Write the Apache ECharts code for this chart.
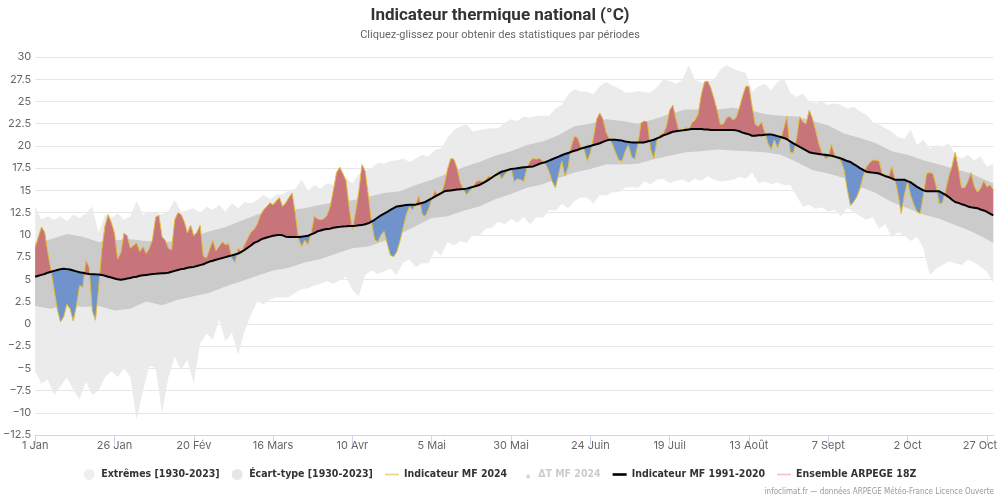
<!DOCTYPE html>
<html><head><meta charset="utf-8">
<script src="https://cdn.jsdelivr.net/npm/echarts@6/dist/echarts.min.js"></script>
<style>html,body{margin:0;padding:0;background:#fff}#c{width:1000px;height:500px}</style>
</head><body><div id="c"></div>
<script>
// x tick labels (every 25 days from 1 Jan 2024)
const tickLabels = ['1 Jan','26 Jan','20 Fév','16 Mars','10 Avr','5 Mai','30 Mai','24 Juin','19 Juil','13 Août','7 Sept','2 Oct','27 Oct'];

// Indicateur MF 2024, daily from 1 Jan
const mf2024 = [
8.6,9.8,10.9,10.3,8.0,6.0,3.8,1.6,0.2,0.8,
2.2,1.7,0.3,2.0,4.3,4.1,7.1,6.4,1.5,0.4,
4.0,8.3,11.0,12.3,11.4,10.2,7.3,8.0,10.2,9.9,
8.5,8.8,9.1,8.1,8.7,7.9,8.5,9.5,12.0,12.2,
9.8,9.4,8.5,8.3,11.7,12.5,12.3,11.5,10.2,11.1,
9.9,10.3,11.1,7.6,7.4,8.4,9.4,8.2,8.7,9.2,
8.9,9.0,7.4,6.9,8.5,8.1,8.9,9.6,10.3,10.6,
11.2,12.2,12.8,13.2,13.6,13.4,13.8,14.2,13.2,13.6,
14.2,14.7,12.4,9.6,8.7,9.4,8.9,10.2,12.1,11.8,
11.7,11.8,12.2,13.2,15.0,17.0,17.6,16.9,16.1,13.0,
10.6,12.6,14.8,17.9,17.2,14.5,11.5,9.5,9.2,10.0,
10.4,9.0,7.7,7.55,8.1,9.3,10.8,12.3,13.2,12.8,
13.5,14.4,12.3,12.1,12.9,14.0,15.0,14.4,14.6,15.7,
17.4,18.6,18.5,17.5,15.9,15.1,14.5,15.0,15.3,16.0,
16.1,16.0,16.2,16.6,16.4,16.6,17.2,16.3,16.8,17.2,
17.5,16.0,16.3,16.2,16.0,17.5,18.3,18.6,18.5,18.6,
18.3,17.9,17.1,16.0,15.3,16.8,18.3,16.6,17.6,20.0,
21.1,20.9,19.9,19.7,18.3,19.2,21.0,23.0,23.7,23.0,
21.5,20.8,20.2,19.2,18.4,18.3,19.4,20.1,18.8,18.5,
20.2,22.6,22.8,22.7,19.6,18.6,20.6,21.3,21.4,22.2,
24.0,24.6,23.0,21.6,21.6,22.1,21.8,22.6,22.9,23.6,
25.8,27.2,27.3,26.5,25.3,24.0,22.4,22.5,23.2,23.3,
22.9,23.2,24.3,25.6,26.7,26.7,24.4,22.4,22.2,22.7,
21.5,20.3,19.6,20.7,19.8,20.7,22.0,23.3,19.3,19.2,
20.8,23.3,22.7,22.5,24.0,23.1,21.8,20.3,19.2,18.6,
18.7,20.2,19.0,18.6,18.3,17.3,15.1,13.3,13.7,14.3,
15.2,16.6,17.6,18.1,18.4,18.4,18.3,16.9,16.7,16.4,
17.7,16.3,14.6,12.4,14.5,16.0,14.4,13.4,12.6,12.4,
14.5,16.9,17.0,16.9,15.5,13.5,13.6,15.0,16.6,17.7,
19.3,17.5,15.3,15.3,16.0,17.0,15.5,14.8,15.2,16.1,
15.4,15.6,15.1
];

// Indicateur MF 1991-2020 (normale), daily
const mfNormal = [
5.3,5.4,5.5,5.6,5.75,5.85,5.95,6.05,6.15,6.2,
6.15,6.1,6.0,5.9,5.8,5.75,5.65,5.6,5.58,5.56,
5.55,5.5,5.4,5.3,5.2,5.1,5.0,4.95,5.0,5.1,
5.15,5.25,5.3,5.4,5.45,5.5,5.55,5.6,5.62,5.65,
5.68,5.7,5.75,5.85,5.95,6.05,6.15,6.2,6.3,6.35,
6.4,6.5,6.6,6.7,6.85,7.0,7.1,7.2,7.3,7.4,
7.5,7.6,7.7,7.8,7.9,8.1,8.3,8.55,8.8,9.1,
9.25,9.45,9.6,9.7,9.8,9.9,9.95,10.0,9.95,9.8,
9.75,9.75,9.75,9.75,9.8,9.85,9.9,10.05,10.2,10.4,
10.5,10.6,10.65,10.7,10.8,10.85,10.9,10.95,10.97,11.0,
11.0,11.03,11.07,11.1,11.2,11.3,11.5,11.7,11.95,12.2,
12.4,12.6,12.8,13.0,13.2,13.25,13.3,13.35,13.38,13.4,
13.4,13.5,13.6,13.7,13.9,14.1,14.3,14.5,14.7,14.9,
14.95,15.0,15.05,15.1,15.12,15.15,15.2,15.3,15.4,15.5,
15.6,15.8,16.0,16.2,16.45,16.7,16.9,17.1,17.2,17.3,
17.4,17.45,17.5,17.55,17.6,17.63,17.67,17.7,17.85,18.0,
18.1,18.2,18.35,18.5,18.65,18.8,18.95,19.1,19.2,19.35,
19.45,19.55,19.7,19.8,19.9,20.0,20.1,20.2,20.3,20.45,
20.6,20.7,20.7,20.7,20.65,20.6,20.5,20.45,20.4,20.4,
20.4,20.4,20.4,20.5,20.6,20.7,20.85,21.0,21.2,21.3,
21.45,21.6,21.65,21.7,21.75,21.8,21.85,21.9,21.9,21.9,
21.9,21.85,21.85,21.8,21.8,21.8,21.8,21.8,21.8,21.8,
21.8,21.75,21.65,21.5,21.4,21.3,21.15,21.15,21.2,21.2,
21.25,21.3,21.3,21.2,21.1,21.0,20.9,20.75,20.5,20.3,
20.1,19.9,19.7,19.5,19.3,19.2,19.15,19.1,19.05,19.0,
18.95,18.9,18.8,18.7,18.6,18.45,18.3,18.2,17.95,17.75,
17.5,17.3,17.1,17.05,17.0,16.95,16.9,16.75,16.6,16.5,
16.35,16.2,16.2,16.2,16.2,16.05,15.9,15.65,15.4,15.2,
15.0,14.9,14.9,14.9,14.9,14.9,14.7,14.5,14.25,13.95,
13.7,13.6,13.45,13.35,13.2,13.1,13.05,13.0,12.85,12.75,
12.6,12.4,12.2
];

// Extrêmes [1930-2023], every 2 days
const extMax = [
13.2,11.7,12.1,11.7,12.1,11.5,12.25,11.9,12.4,13.2,
10.2,12.25,11.9,12.4,11.7,12.1,13.8,12.25,12.6,12.5,
12.3,12.7,13.9,12.6,12.8,13.0,12.4,13.2,12.8,13.4,
12.6,13.55,13.0,13.7,13.55,13.9,14.5,14.0,14.5,14.6,
15.0,15.2,16.2,14.9,15.6,15.2,15.8,15.6,16.2,16.4,
15.8,16.8,17.2,17.5,18.1,18.0,18.3,18.4,18.6,18.2,
18.6,19.0,18.8,19.55,19.7,20.9,21.8,22.2,22.4,21.6,
21.8,21.9,22.0,22.0,22.6,23.0,22.8,23.3,23.2,23.4,
23.4,23.4,24.2,24.6,25.8,26.4,26.1,26.1,25.8,26.7,
27.2,26.8,26.5,26.0,26.0,26.2,26.0,26.0,26.6,27.5,
27.3,27.0,27.4,29.1,27.4,27.1,27.2,27.5,28.6,29.1,
28.7,28.4,28.2,26.1,26.7,27.0,26.3,27.2,27.6,26.0,
25.5,25.9,25.0,24.8,25.0,24.6,24.8,24.6,24.2,24.4,
23.9,23.5,22.7,22.4,22.0,21.6,21.0,20.8,21.8,20.1,
20.7,19.7,20.1,19.9,20.3,19.0,18.6,19.0,18.4,18.8,
17.7,18.0
];
const extMin = [
-5.4,-6.7,-6.3,-8.0,-7.0,-6.0,-7.4,-8.5,-6.5,-8.0,
-7.5,-6.0,-5.3,-6.0,-5.0,-6.0,-10.8,-7.5,-4.7,-5.0,
-10.0,-6.0,-3.7,-5.2,-4.0,-6.7,-2.2,-1.05,-1.8,0.5,
-2.0,-1.0,-3.5,-0.8,1.0,2.5,2.2,2.7,3.0,3.0,
3.0,3.5,3.9,4.0,4.3,4.5,4.8,4.5,4.9,5.3,
3.8,3.1,5.5,6.0,5.6,5.9,6.2,5.5,6.9,7.2,
6.4,6.8,6.8,8.3,7.7,9.2,8.8,9.3,9.1,10.0,
9.9,10.7,10.8,11.5,11.2,11.8,11.4,12.0,11.2,12.0,
11.9,12.8,12.7,13.5,13.0,13.8,14.2,14.2,13.5,14.5,
14.4,14.8,14.8,15.3,15.4,15.3,16.0,15.7,16.2,16.3,
15.8,16.1,16.2,15.9,16.3,16.1,16.6,16.2,16.0,16.1,
16.2,16.5,16.3,17.0,15.8,16.0,15.7,15.9,15.6,15.6,
14.4,13.2,13.4,12.9,13.1,12.6,12.8,12.1,13.0,12.6,
12.1,11.7,12.0,10.7,11.2,9.7,10.3,9.9,9.3,9.8,
8.5,5.5,6.2,6.6,7.0,6.8,6.6,7.2,6.9,6.4,
5.9,4.6
];

// Écart-type [1930-2023]
const sdDays = [0,5,10,15,20,25,30,35,40,45,50,55,60,65,70,75,80,85,90,95,100,105,110,115,120,125,130,135,140,145,150,155,160,165,170,175,180,185,190,195,200,205,210,215,220,225,230,235,240,245,250,255,260,265,270,275,280,285,290,295,300,302];
const sdMax = [
9.1,9.5,10.1,9.8,9.2,9.4,9.5,9.3,9.2,9.3,
9.8,10.4,10.9,11.6,12.3,12.8,12.8,13.0,13.4,13.7,
13.9,14.3,14.7,14.9,15.6,16.2,16.9,17.6,18.2,18.9,
19.4,20.1,20.5,21.2,22.2,22.5,23.0,22.8,22.5,23.0,
23.6,24.1,24.1,24.1,24.3,24.0,23.6,23.4,23.3,22.8,
22.3,21.4,20.9,20.3,19.4,19.0,18.4,17.9,17.4,16.9,
16.1,15.8
];
const sdMin = [
2.0,1.7,2.2,1.9,2.0,1.5,1.7,2.5,2.1,2.7,
3.1,3.5,4.2,4.8,5.4,6.0,6.3,6.9,7.3,7.9,
8.5,8.7,9.3,10.1,11.0,11.9,12.1,12.7,13.2,14.0,
14.6,15.3,15.7,16.4,17.0,17.4,17.9,17.9,18.0,18.5,
18.9,19.3,19.4,19.6,19.5,19.4,19.3,19.0,18.2,17.3,
16.9,16.4,15.4,14.7,13.7,13.0,12.3,11.8,11.1,10.4,
9.5,9.1
];

const days = mf2024.map((_, i) => i);
const extDays = extMax.map((_, i) => i * 2);
const tickDays = tickLabels.map((_, i) => i * 25);
const pair = (xs, ys) => ys.map((y, i) => [xs[i], y]);

// Outline of the anomaly fill: the 2024 curve and the normal, with the exact
// points where the two drawn lines cross, so red/blue meet on the yellow line.
const anoX = [], anoInd = [], anoNorm = [];
for (let i = 0; i < mf2024.length; i++) {
  anoX.push(days[i]); anoInd.push(mf2024[i]); anoNorm.push(mfNormal[i]);
  if (i < mf2024.length - 1) {
    const d0 = mf2024[i] - mfNormal[i], d1 = mf2024[i + 1] - mfNormal[i + 1];
    if (d0 * d1 < 0) {
      const t = d0 / (d0 - d1);
      const v = mfNormal[i] + t * (mfNormal[i + 1] - mfNormal[i]);
      anoX.push(days[i] + t); anoInd.push(v); anoNorm.push(v);
    }
  }
}
const redTop = anoInd.map((v, i) => Math.max(v, anoNorm[i]));
const blueBottom = anoInd.map((v, i) => Math.min(v, anoNorm[i]));

// Filled band between two curves, drawn through the chart's own scales.
function band(name, xs, lo, hi, color, z) {
  return {
    type: 'custom', name, z, silent: true, clip: true, color,
    data: xs.map((x, i) => [x, lo[i], hi[i]]),
    encode: { x: 0, y: [1, 2] },
    renderItem: (params, api) => {
      if (params.dataIndex !== 0) return null;
      const pts = [];
      for (let i = 0; i < xs.length; i++) pts.push(api.coord([xs[i], hi[i]]));
      for (let i = xs.length - 1; i >= 0; i--) pts.push(api.coord([xs[i], lo[i]]));
      return { type: 'polygon', shape: { points: pts }, style: { fill: color, stroke: null } };
    }
  };
}

const FONT = 'Roboto, "Liberation Sans", sans-serif';
const AXISFONT = 'Inter, "Open Sans", sans-serif';
const NARROW = '"Liberation Sans Narrow", "DejaVu Sans Condensed", sans-serif';

const chart = echarts.init(document.getElementById('c'), null, { renderer: 'canvas' });
chart.setOption({
  animation: false,
  backgroundColor: '#ffffff',
  title: {
    text: 'Indicateur thermique national (°C)',
    subtext: 'Cliquez-glissez pour obtenir des statistiques par périodes',
    left: 'center', top: 2, itemGap: 6,
    textStyle: { fontSize: 17, fontWeight: 'bold', color: '#333333', fontFamily: FONT },
    subtextStyle: { fontSize: 11, color: '#666666', fontFamily: FONT }
  },
  grid: { left: 31, right: 2, top: 57, bottom: 65, containLabel: false },
  xAxis: {
    type: 'value', min: 0, max: 302, interval: 25,
    axisLine: { show: true, onZero: false, lineStyle: { color: '#ccd6eb' } },
    axisTick: { show: true, length: 10, customValues: tickDays, lineStyle: { color: '#ccd6eb' } },
    splitLine: { show: false },
    axisLabel: {
      customValues: tickDays, color: '#666666', fontSize: 11, fontFamily: AXISFONT, margin: 5,
      formatter: v => {
        const k = Math.round(v / 25);
        if (k === tickLabels.length - 1) return '{r|' + tickLabels[k] + '}';
        return tickLabels[k] || '';
      },
      rich: { r: { padding: [0, 14, 0, 0], color: '#666666', fontSize: 11, fontFamily: AXISFONT } }
    }
  },
  yAxis: {
    type: 'value', min: -12.5, max: 30, interval: 2.5,
    axisLine: { show: false }, axisTick: { show: false },
    splitLine: { lineStyle: { color: '#e6e6e6', width: 1 } },
    axisLabel: {
      color: '#666666', fontSize: 11, fontFamily: AXISFONT, margin: 4,
      formatter: v => (v < 0 ? '\u2212' : '') + String(Math.abs(v))
    }
  },
  legend: {
    bottom: 15, left: 'center', itemWidth: 14, itemHeight: 11, itemGap: 12,
    inactiveColor: '#cccccc',
    textStyle: { fontSize: 10.5, fontWeight: 'bold', color: '#333333', fontFamily: NARROW },
    selected: { 'ΔT MF 2024': false },
    data: [
      { name: 'Extrêmes [1930-2023]', icon: 'circle', itemStyle: { color: '#efefef' } },
      { name: 'Écart-type [1930-2023]', icon: 'circle', itemStyle: { color: '#e6e6e6' } },
      { name: 'Indicateur MF 2024', icon: 'path://M0,0h16v2H0z', itemStyle: { color: '#e9d88c' } },
      { name: 'ΔT MF 2024', icon: 'path://M0,0h0.01v0.01H0z M9,5.5a2,2 0 1,0 0.01,0z M13.99,10.99h0.01v0.01h-0.01z' },
      { name: 'Indicateur MF 1991-2020', icon: 'path://M0,0h16v3H0z', itemStyle: { color: '#000000' } },
      { name: 'Ensemble ARPEGE 18Z', icon: 'path://M0,0h16v2H0z', itemStyle: { color: '#f6c3cb' } }
    ]
  },
  graphic: [{
    type: 'text', right: 6, top: 488,
    style: { text: 'infoclimat.fr — données ARPEGE Météo-France Licence Ouverte', fontSize: 8, fill: '#999999', fontFamily: NARROW }
  }],
  series: [
    band('Extrêmes [1930-2023]', extDays, extMin, extMax, '#ebebeb', 1),
    band('Écart-type [1930-2023]', sdDays, sdMin, sdMax, '#cbcbcb', 2),
    band('anoBlue', anoX, blueBottom, anoNorm, '#7193cb', 3),
    band('anoRed', anoX, anoNorm, redTop, '#c8747b', 3),
    { type: 'line', name: 'Indicateur MF 2024', data: pair(days, mf2024), symbol: 'none', z: 4, color: '#e9d88c',
      lineStyle: { color: '#e2bd3c', width: 1 }, silent: true },
    { type: 'scatter', name: 'ΔT MF 2024', data: [], symbolSize: 4, color: '#999999' },
    { type: 'line', name: 'Indicateur MF 1991-2020', data: pair(days, mfNormal), symbol: 'none', z: 5, color: '#000000',
      lineStyle: { color: '#000000', width: 2 }, silent: true },
    { type: 'line', name: 'Ensemble ARPEGE 18Z', data: [], symbol: 'none', color: '#f6c3cb',
      lineStyle: { color: '#f6c3cb', width: 2 } }
  ]
});
</script>
</body></html>
